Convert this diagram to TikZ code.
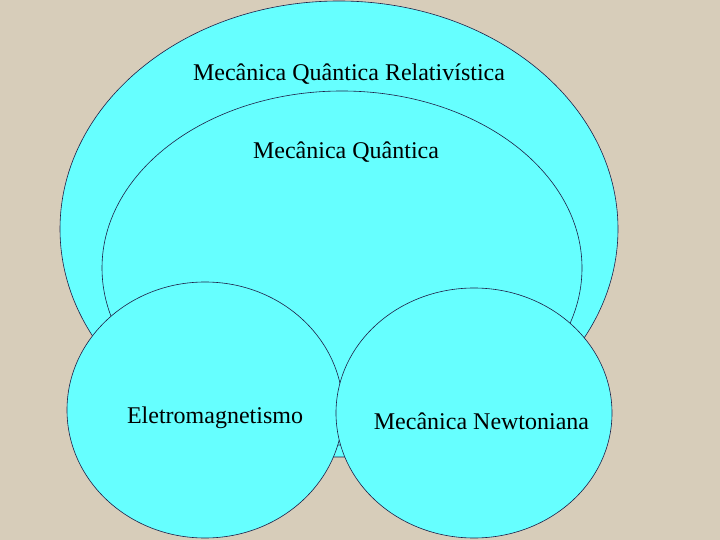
\documentclass[tikz,border=0pt]{standalone}
\usepackage{fontspec}
\setmainfont{Liberation Serif}
\usetikzlibrary{shapes.geometric}
\definecolor{bgbeige}{RGB}{215,205,186}
\definecolor{cyanfill}{RGB}{102,255,255}
\definecolor{edgenavy}{RGB}{30,30,70}
\tikzset{
  blob/.style={ellipse, draw=edgenavy, fill=cyanfill, line width=0.6bp, inner sep=0pt, outer sep=0pt},
  lbl/.style={anchor=base, inner sep=0pt, font=\fontsize{24bp}{28bp}\selectfont, text=black}
}
\begin{document}
\begin{tikzpicture}[x=1bp,y=-1bp]
\fill[bgbeige] (0,0) rectangle (720,540);
\useasboundingbox (0,0) rectangle (720,540);
\node[blob, minimum width=558bp, minimum height=456bp] (outer) at (339,229) {};
\node[blob, minimum width=480bp, minimum height=354bp] (inner) at (342,268) {};
\node[blob, minimum width=276bp, minimum height=256bp] (left) at (205,410) {};
\node[blob, minimum width=276bp, minimum height=250bp] (right) at (474,413) {};
\node[lbl] (t1) at (349,81) {Mecânica Quântica Relativística};
\node[lbl] (t2) at (346,159) {Mecânica Quântica};
\node[lbl] (t3) at (215,423) {Eletromagnetismo};
\node[lbl] (t4) at (481.5,429) {Mecânica Newtoniana};
\end{tikzpicture}
\end{document}
